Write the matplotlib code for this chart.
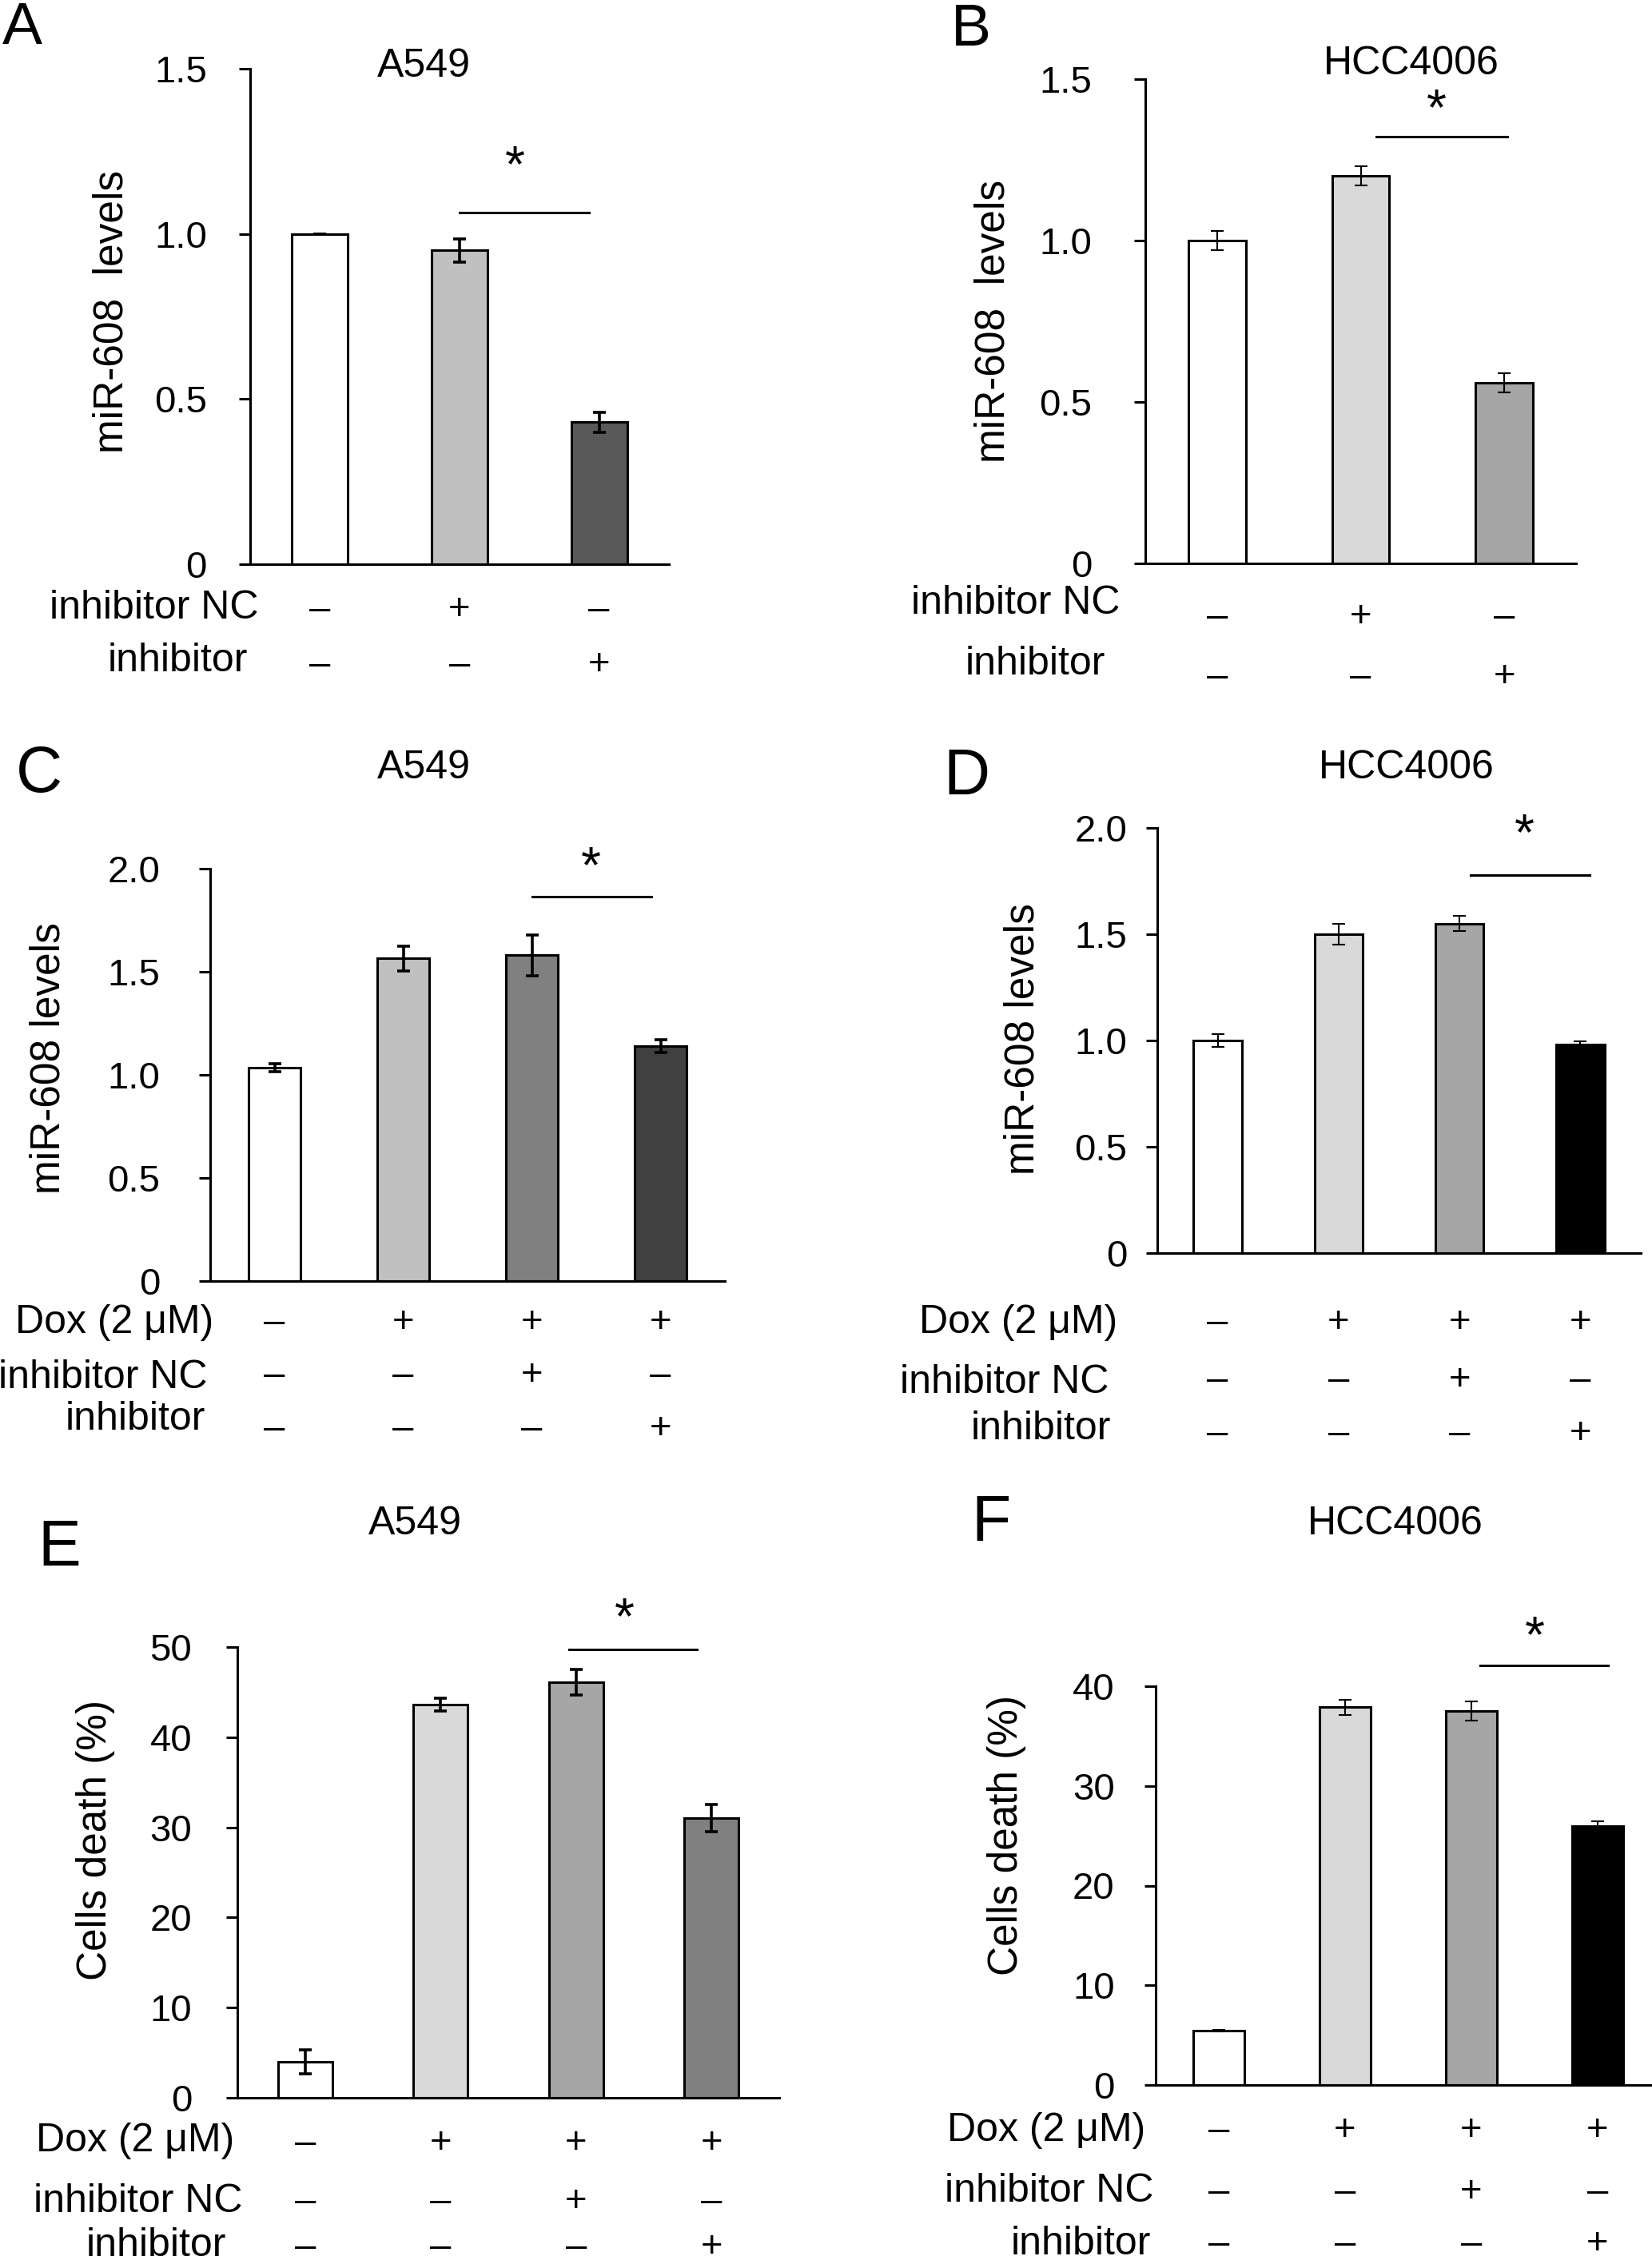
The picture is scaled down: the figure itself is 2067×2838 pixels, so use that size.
import matplotlib
matplotlib.use('Agg')
import matplotlib.pyplot as plt
from matplotlib.transforms import blended_transform_factory

plt.rcParams['font.family'] = ['Liberation Sans', 'DejaVu Sans']

W, H = 2067, 2838

# A: A549, miR-608 levels
a_vals = [1.0, 0.95, 0.43]
a_err = [0.0, 0.035, 0.03]
a_colors = ['white', '#c0c0c0', '#595959']

# B: HCC4006, miR-608 levels
b_vals = [1.0, 1.20, 0.56]
b_err = [0.03, 0.03, 0.03]
b_colors = ['white', '#d9d9d9', '#a6a6a6']

# C: A549 + Dox, miR-608 levels
c_vals = [1.035, 1.565, 1.58, 1.14]
c_err = [0.02, 0.06, 0.10, 0.03]
c_colors = ['white', '#c0c0c0', '#808080', '#404040']

# D: HCC4006 + Dox, miR-608 levels
d_vals = [1.0, 1.5, 1.55, 0.98]
d_err = [0.03, 0.05, 0.035, 0.015]
d_colors = ['white', '#d9d9d9', '#a6a6a6', 'black']

# E: A549, cell death
e_vals = [4.0, 43.6, 46.1, 31.0]
e_err = [1.3, 0.7, 1.4, 1.5]
e_colors = ['white', '#d9d9d9', '#a6a6a6', '#808080']

# F: HCC4006, cell death
f_vals = [5.45, 37.9, 37.5, 26.0]
f_err = [0.1, 0.75, 0.95, 0.45]
f_colors = ['white', '#d9d9d9', '#a6a6a6', 'black']

# treatment tables
ab_rows = ['inhibitor NC', 'inhibitor']
ab_signs = [['–', '+', '–'], ['–', '–', '+']]
dox_rows = ['Dox (2 μM)', 'inhibitor NC', 'inhibitor']
dox_signs = [['–', '+', '+', '+'], ['–', '–', '+', '–'], ['–', '–', '–', '+']]

mir_ticks = [0, 0.5, 1.0, 1.5]
mir_ticks2 = [0, 0.5, 1.0, 1.5, 2.0]
death_ticks_e = [0, 10, 20, 30, 40, 50]
death_ticks_f = [0, 10, 20, 30, 40]

fig = plt.figure(figsize=(W / 100, H / 100), dpi=100)


def add_ax(left, top, right, bottom):
    return fig.add_axes([left / W, 1 - bottom / H, (right - left) / W, (bottom - top) / H])


def fig_text(x, y, s, **kw):
    fig.text(x / W, 1 - y / H, s, **kw)


def draw_bars(ax, vals, err, colors, ymax, ticks, labels, thick, pad):
    x = list(range(len(vals)))
    ax.bar(x, vals, width=0.4, color=colors, edgecolor='black', linewidth=2.2, zorder=2)
    lw = 2.6 if thick else 1.5
    ax.errorbar(x, vals, yerr=err, fmt='none', ecolor='black', elinewidth=lw,
                capsize=6, capthick=lw, zorder=3)
    ax.set_xlim(-0.5, len(vals) - 0.5)
    ax.set_ylim(0, ymax)
    ax.set_yticks(ticks)
    ax.set_yticklabels(labels)
    ax.set_xticks([])
    ax.tick_params(axis='y', direction='out', length=10, width=2.2, labelsize=34, pad=pad)
    for s in ['top', 'right']:
        ax.spines[s].set_visible(False)
    ax.spines['left'].set_linewidth(2.2)
    ax.spines['bottom'].set_linewidth(2.2)
    ax.patch.set_visible(False)


def star(ax, x1, x2, y, sx, sy):
    ax.plot([x1, x2], [y, y], color='black', lw=2.2, clip_on=False)
    ax.text(sx, sy, '*', fontsize=46, ha='center', va='center')


def sign_rows(ax, signs, ys):
    tr = blended_transform_factory(ax.transData, fig.transFigure)
    for row, y in zip(signs, ys):
        for i, s in enumerate(row):
            ax.text(i, 1 - y / H, s, transform=tr, fontsize=34, ha='center', va='center')


def row_labels(names, xs, ys):
    for name, x, y in zip(names, xs, ys):
        fig_text(x, y, name, fontsize=36, ha='right', va='center')


def ylab(x, y, s):
    fig_text(x, y, s, fontsize=37, rotation=90, ha='center', va='center')


# ---- A ----
ax = add_ax(313, 86, 837, 706)
draw_bars(ax, a_vals, a_err, a_colors, 1.5, mir_ticks, ['0', '0.5', '1.0', '1.5'], True, 29)
star(ax, 1.0, 1.93, 1.065, 1.40, 1.20)
sign_rows(ax, ab_signs, [763, 832])
row_labels(ab_rows, [323, 310], [761, 827])
fig_text(530, 83, 'A549', fontsize=36, ha='center', va='center')
fig_text(3, 1, 'A', fontsize=54, ha='left', va='top')
ylab(140, 390, 'miR-608  levels')

# ---- B ----
ax = add_ax(1433, 99, 1972, 705)
draw_bars(ax, b_vals, b_err, b_colors, 1.5, mir_ticks, ['0', '0.5', '1.0', '1.5'], False, 38)
star(ax, 1.11, 2.02, 1.322, 1.53, 1.40)
sign_rows(ax, ab_signs, [772, 847])
row_labels(ab_rows, [1402, 1383], [755, 831])
fig_text(1766, 80, 'HCC4006', fontsize=36, ha='center', va='center')
fig_text(1190, 3, 'B', fontsize=54, ha='left', va='top')
ylab(1243, 402, 'miR-608  levels')

# ---- C ----
ax = add_ax(263, 1087, 907, 1603)
draw_bars(ax, c_vals, c_err, c_colors, 2.0, mir_ticks2, ['0', '0.5', '1.0', '1.5', '2.0'], True, 35)
star(ax, 2.0, 2.93, 1.864, 2.46, 2.0)
sign_rows(ax, dox_signs, [1655, 1721, 1788])
row_labels(dox_rows, [267, 259, 257], [1655, 1724, 1776])
fig_text(530, 961, 'A549', fontsize=36, ha='center', va='center')
fig_text(20, 970, 'C', fontsize=58, ha='left', va='center')
ylab(61, 1324, 'miR-608 levels')

# ---- D ----
ax = add_ax(1448, 1036, 2053, 1568)
draw_bars(ax, d_vals, d_err, d_colors, 2.0, mir_ticks2, ['0', '0.5', '1.0', '1.5', '2.0'], False, 17)
star(ax, 2.09, 3.08, 1.778, 2.54, 1.96)
sign_rows(ax, dox_signs, [1655, 1727, 1794])
row_labels(dox_rows, [1398, 1388, 1390], [1655, 1730, 1788])
fig_text(1760, 961, 'HCC4006', fontsize=36, ha='center', va='center')
fig_text(1180, 973, 'D', fontsize=58, ha='left', va='center')
ylab(1280, 1300, 'miR-608 levels')

# ---- E ----
ax = add_ax(297, 2061, 975, 2625)
draw_bars(ax, e_vals, e_err, e_colors, 50, death_ticks_e, [str(t) for t in death_ticks_e], True, 31)
star(ax, 1.95, 2.89, 49.7, 2.36, 53.0)
sign_rows(ax, dox_signs, [2682, 2755, 2812])
row_labels(dox_rows, [293, 303, 283], [2679, 2755, 2810])
fig_text(519, 1907, 'A549', fontsize=36, ha='center', va='center')
fig_text(47, 1938, 'E', fontsize=58, ha='left', va='center')
ylab(120, 2302, 'Cells death (%)')

# ---- F ----
ax = add_ax(1446, 2110, 2078, 2609)
draw_bars(ax, f_vals, f_err, f_colors, 40, death_ticks_f, [str(t) for t in death_ticks_f], False, 27)
star(ax, 2.07, 3.08, 42.1, 2.5, 44.8)
sign_rows(ax, dox_signs, [2666, 2743, 2808])
row_labels(dox_rows, [1433, 1443, 1440], [2666, 2742, 2808])
fig_text(1746, 1907, 'HCC4006', fontsize=36, ha='center', va='center')
fig_text(1215, 1907, 'F', fontsize=58, ha='left', va='center')
ylab(1260, 2297, 'Cells death (%)')

fig.savefig('out.png', dpi=100, facecolor='white')
